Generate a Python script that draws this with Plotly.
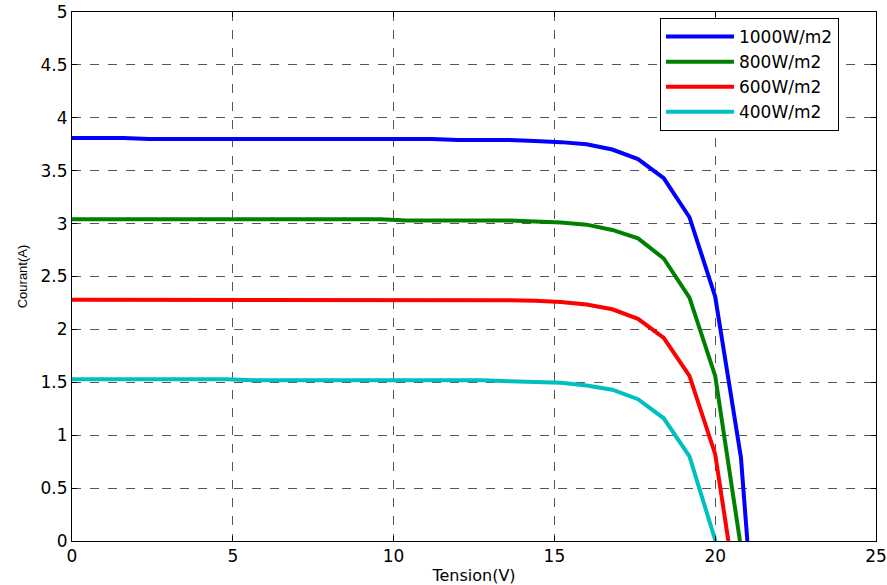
import plotly.graph_objects as go

# Tension (V) sample points and courant (A) for each irradiance
v_1000 = [0, 1.6, 2.4, 11.2, 12.0, 13.6, 14.4, 15.2, 16.0, 16.8, 17.6, 18.4, 19.2, 20.0, 20.8, 21.0]
i_1000 = [3.81, 3.81, 3.80, 3.80, 3.79, 3.79, 3.78, 3.77, 3.75, 3.70, 3.61, 3.43, 3.06, 2.31, 0.79, 0.0]

v_800 = [0, 9.6, 10.4, 13.6, 14.4, 15.2, 16.0, 16.8, 17.6, 18.4, 19.2, 20.0, 20.77]
i_800 = [3.04, 3.04, 3.03, 3.03, 3.02, 3.01, 2.99, 2.94, 2.86, 2.67, 2.30, 1.56, 0.0]

v_600 = [0, 7.2, 8.0, 13.6, 14.4, 15.2, 16.0, 16.8, 17.6, 18.4, 19.2, 20.0, 20.41]
i_600 = [2.28, 2.28, 2.275, 2.275, 2.27, 2.26, 2.235, 2.19, 2.10, 1.92, 1.56, 0.82, 0.0]

v_400 = [0, 4.8, 5.6, 12.8, 13.6, 14.4, 15.2, 16.0, 16.8, 17.6, 18.4, 19.2, 20.01]
i_400 = [1.53, 1.53, 1.52, 1.52, 1.51, 1.505, 1.495, 1.47, 1.43, 1.34, 1.16, 0.80, 0.0]

labels = ["1000W/m2", "800W/m2", "600W/m2", "400W/m2"]
colors = ["#0000FF", "#008000", "#FF0000", "#00BFBF"]

x_ticks = [0, 5, 10, 15, 20, 25]
y_ticks = [0, 0.5, 1, 1.5, 2, 2.5, 3, 3.5, 4, 4.5, 5]
y_ticktext = ["0", "0.5", "1", "1.5", "2", "2.5", "3", "3.5", "4", "4.5", "5"]

fig = go.Figure()
for vx, iy, lab, col in zip([v_1000, v_800, v_600, v_400],
                            [i_1000, i_800, i_600, i_400], labels, colors):
    fig.add_trace(go.Scatter(x=vx, y=iy, mode="lines", name=lab,
                             line=dict(color=col, width=4)))

axis_common = dict(
    showline=True, linecolor="black", linewidth=1, mirror="ticks",
    ticks="inside", ticklen=5, tickcolor="black",
    showgrid=True, gridcolor="#555555", griddash="dash", gridwidth=1,
    zeroline=False, automargin=False,
    tickfont=dict(family="DejaVu Sans", size=17, color="black"),
)

fig.update_xaxes(range=[0, 25], tickvals=x_ticks,
                 title=dict(text="Tension(V)", standoff=6,
                            font=dict(family="DejaVu Sans", size=16, color="black")),
                 **axis_common)
fig.update_yaxes(range=[0, 5], tickvals=y_ticks, ticktext=y_ticktext,
                 title=dict(text="Courant(A)", standoff=10,
                            font=dict(family="Liberation Sans", size=13, color="black")),
                 **axis_common)

fig.update_layout(
    width=887, height=585,
    margin=dict(l=72, r=11, t=12, b=44),
    paper_bgcolor="white", plot_bgcolor="white",
    showlegend=True,
    legend=dict(x=0.7313, y=0.9887, xanchor="left", yanchor="top",
                bgcolor="white", bordercolor="black", borderwidth=1,
                font=dict(family="DejaVu Sans", size=17, color="black"),
                itemwidth=68),
)

fig.write_html("out.html")
